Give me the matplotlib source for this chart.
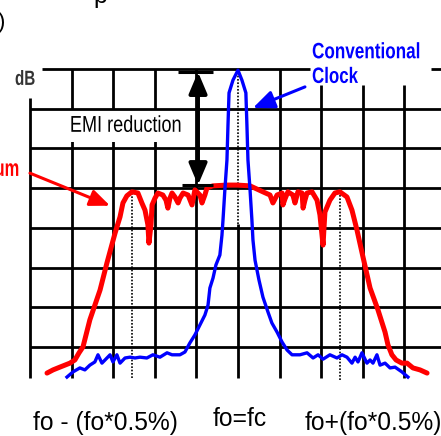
import numpy as np
import matplotlib
matplotlib.use('Agg')
import matplotlib.pyplot as plt
import matplotlib.patheffects as pe
from matplotlib.patches import Rectangle
from matplotlib.transforms import Affine2D

# frequency offset from fo in %, level in dB (0 = conventional clock peak)
red_f = [-0.918, -0.889, -0.856, -0.832, -0.808, -0.784, -0.764, -0.745, -0.712, -0.663,
         -0.630, -0.591, -0.567, -0.553, -0.534, -0.510, -0.481, -0.462, -0.447, -0.433,
         -0.428, -0.418, -0.413, -0.399, -0.385, -0.361, -0.346, -0.337, -0.327, -0.317,
         -0.303, -0.288, -0.279, -0.264, -0.240, -0.221, -0.207, -0.183, -0.173, -0.159,
         -0.149, -0.120, -0.053, -0.005, 0.058, 0.120, 0.154, 0.168, 0.188, 0.212,
         0.216, 0.226, 0.240, 0.264, 0.274, 0.288, 0.308, 0.313, 0.322, 0.332,
         0.356, 0.380, 0.394, 0.404, 0.409, 0.413, 0.418, 0.442, 0.466, 0.490,
         0.524, 0.548, 0.572, 0.601, 0.635, 0.673, 0.707, 0.721, 0.740, 0.760,
         0.788, 0.813, 0.841, 0.875, 0.909]
red_db = [-76.5, -75.7, -75.0, -74.5, -74.0, -73.2, -71.4, -69.9, -63.1, -55.6,
          -48.8, -41.3, -37.2, -33.7, -31.9, -30.9, -31.2, -33.7, -35.5, -39.2,
          -43.8, -39.2, -34.2, -32.5, -31.2, -31.7, -33.0, -35.0, -32.5, -31.2,
          -32.2, -33.7, -32.5, -31.2, -31.7, -34.2, -30.4, -31.7, -33.7, -31.7,
          -29.9, -29.4, -29.2, -29.2, -29.4, -30.9, -31.7, -33.7, -31.7, -31.2,
          -34.2, -32.7, -30.9, -31.7, -33.7, -30.9, -31.2, -35.0, -33.0, -31.2,
          -30.9, -33.0, -36.7, -41.8, -44.3, -40.5, -36.0, -33.0, -31.2, -30.9,
          -32.2, -35.5, -40.5, -47.3, -55.1, -60.6, -66.2, -69.4, -71.9, -73.2,
          -74.0, -74.0, -75.2, -75.7, -76.5]

blue_f = [-0.822, -0.793, -0.760, -0.736, -0.712, -0.688, -0.673, -0.654, -0.639, -0.615,
          -0.601, -0.582, -0.567, -0.543, -0.519, -0.495, -0.471, -0.438, -0.409, -0.375,
          -0.341, -0.317, -0.279, -0.255, -0.231, -0.207, -0.183, -0.159, -0.144, -0.135,
          -0.120, -0.106, -0.087, -0.077, -0.072, -0.063, -0.053, -0.048, -0.043, -0.024,
          0.000, 0.019, 0.038, 0.043, 0.048, 0.058, 0.067, 0.072, 0.082, 0.101,
          0.120, 0.144, 0.163, 0.188, 0.212, 0.236, 0.260, 0.298, 0.332, 0.361,
          0.385, 0.409, 0.442, 0.476, 0.500, 0.524, 0.548, 0.563, 0.577, 0.596,
          0.620, 0.635, 0.649, 0.668, 0.683, 0.707, 0.731, 0.755, 0.788, 0.817]
blue_db = [-77.5, -76.2, -75.2, -75.7, -74.5, -73.7, -71.9, -74.0, -73.2, -71.9,
           -73.7, -71.9, -74.0, -72.7, -72.5, -72.7, -72.5, -72.7, -71.9, -72.5,
           -71.4, -71.9, -71.9, -71.2, -68.9, -66.9, -64.4, -61.9, -59.4, -55.1,
           -52.6, -49.3, -46.8, -41.8, -38.0, -30.4, -22.9, -14.1, -6.0, -2.8,
           -0.3, -2.8, -6.0, -14.1, -22.9, -30.4, -38.0, -43.0, -48.1, -53.1,
           -57.4, -61.1, -63.9, -66.2, -68.7, -70.7, -71.9, -71.9, -71.4, -72.7,
           -71.9, -73.0, -71.9, -72.7, -71.9, -72.5, -74.0, -72.5, -73.7, -71.4,
           -74.0, -73.2, -74.0, -71.9, -74.5, -74.0, -75.2, -75.0, -76.2, -77.5]

grid_f = [-1.0, -0.8, -0.6, -0.4, -0.2, 0.0, 0.2, 0.4, 0.6, 0.8]
grid_db = [0, -10, -20, -30, -40, -50, -60, -70]
marker_f = [-0.51, 0.49]
bottom_labels = ['fo - (fo*0.5%)', 'fo=fc', 'fo+(fo*0.5%)']


class Squeeze(pe.AbstractPathEffect):
    # narrow the glyphs horizontally (no condensed font installed)
    def __init__(self, sx, anchor='left'):
        super().__init__()
        self.sx = sx
        self.anchor = anchor

    def draw_path(self, renderer, gc, tpath, affine, rgbFace=None):
        xa = 0.0
        if self.anchor == 'right' and len(tpath.vertices):
            xa = tpath.vertices[:, 0].max()
        x0 = affine.transform((xa, 0))[0]
        t = affine + Affine2D().translate(-x0, 0).scale(self.sx, 1).translate(x0, 0)
        renderer.draw_path(gc, tpath, t, rgbFace)


font = 'Liberation Sans'

fig = plt.figure(figsize=(4.41, 4.36), dpi=100)
ax = fig.add_axes([0, 0, 1, 1])
ax.set_xlim(-1.144, 0.976)
ax.set_ylim(-92.33, 17.36)
ax.axis('off')

bottom = -77.7
# vertical grid
for x in grid_f:
    top = 0
    if x < -0.9:
        top = -7.3
    elif x > 0.3:
        top = -4.0
    if abs(x) < 1e-9:
        ax.vlines(x, -39, 0, colors='black', lw=1.2, linestyles=(0, (1, 1)), zorder=1)
        top = -39
    ax.vlines(x, bottom, top, colors='black', lw=2.0, zorder=1)

# horizontal grid
for y in grid_db:
    if y == 0:
        ax.hlines(y, -0.94, 0.346, colors='black', lw=2.0, zorder=3)
        ax.hlines(y, 0.93, 1.2, colors='black', lw=2.0, zorder=3)
    else:
        ax.hlines(y, -1.0, 1.2, colors='black', lw=2.0, zorder=3)

ax.vlines(marker_f[0], bottom, -30.9, colors='black', lw=1.2, linestyles=(0, (1, 1)), zorder=1)
ax.vlines(marker_f[1], bottom - 0.5, -31.7, colors='black', lw=1.2, linestyles=(0, (1, 1)), zorder=1)

ax.add_patch(Rectangle((-0.827, -18.4), 0.577, 8.4, fc='white', ec='none', zorder=2))
ax.text(-0.808, -15.8, 'EMI reduction', family=font, fontsize=16.5, ha='left', va='baseline',
        zorder=2.5, path_effects=[Squeeze(0.79)])

ax.plot(blue_f, blue_db, color='#0000ff', lw=2.4, zorder=5, solid_joinstyle='round')
ax.plot(red_f, red_db, color='#ff0000', lw=3.6, zorder=4, solid_capstyle='round', solid_joinstyle='round')

# EMI reduction arrow
ax.hlines(-0.75, -0.288, -0.120, colors='black', lw=2.2, zorder=6)
ax.hlines(-29.2, -0.269, -0.120, colors='black', lw=2.2, zorder=6)
ax.annotate('', xy=(-0.192, -0.75), xytext=(-0.192, -29.2),
            arrowprops=dict(arrowstyle='<|-|>,head_length=1.3,head_width=0.55', mutation_scale=10,
                            color='black', lw=2.8, shrinkA=0, shrinkB=0), zorder=6)

ax.annotate('', xy=(-0.615, -34.4), xytext=(-1.0, -26.2),
            arrowprops=dict(arrowstyle='-|>,head_length=1.2,head_width=0.5', mutation_scale=10,
                            color='#ff0000', lw=2.2, shrinkA=0, shrinkB=0), zorder=6)
ax.annotate('', xy=(0.072, -9.8), xytext=(0.322, -4.5),
            arrowprops=dict(arrowstyle='-|>,head_length=1.3,head_width=0.55', mutation_scale=10,
                            color='#0000ff', lw=2.2, shrinkA=0, shrinkB=0), zorder=6)

ax.text(-1.072, -4.0, 'dB', family=font, fontweight='bold', fontsize=14.8, color='#333333',
        ha='left', va='baseline', path_effects=[Squeeze(0.74)])
ax.text(-1.048, -26.9, 'Spread Spectrum', family=font, fontweight='bold', fontsize=17,
        color='#ff0000', ha='right', va='baseline', path_effects=[Squeeze(0.7, 'right')])
ax.text(0.356, 2.7, 'Conventional', family=font, fontweight='bold', fontsize=16,
        color='#0000ff', ha='left', va='baseline', path_effects=[Squeeze(0.77)])
ax.text(0.356, -3.5, 'Clock', family=font, fontweight='bold', fontsize=16,
        color='#0000ff', ha='left', va='baseline', path_effects=[Squeeze(0.76)])
ax.text(-1.12, 10.3, ')', family=font, fontsize=16, ha='right', va='baseline')
ax.text(-0.697, 16.6, 'p', family=font, fontsize=18, ha='left', va='baseline')

ax.text(-0.986, -90.8, bottom_labels[0], family=font, fontsize=17.7, ha='left', va='baseline')
ax.text(-0.120, -89.8, bottom_labels[1], family=font, fontsize=17.7, ha='left', va='baseline')
ax.text(0.322, -90.8, bottom_labels[2], family=font, fontsize=17.7, ha='left', va='baseline')

fig.savefig('out.png', dpi=100)
